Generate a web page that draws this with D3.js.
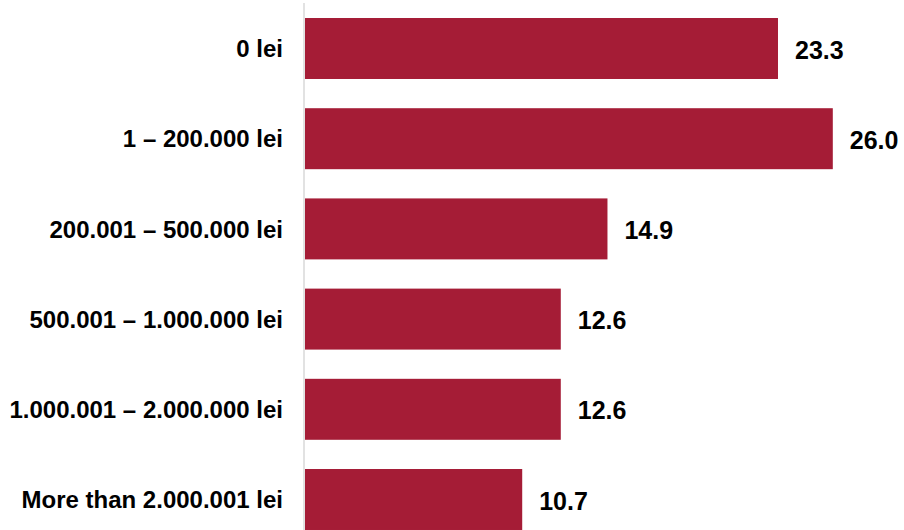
<!DOCTYPE html>
<html>
<head>
<meta charset="utf-8">
<script src="https://cdn.jsdelivr.net/npm/d3@7"></script>
<style>
  html, body { margin: 0; padding: 0; background: #fff; overflow: hidden; }
  svg { display: block; }
  text { font-family: "Liberation Sans", Arial, sans-serif; font-weight: bold; fill: #000; }
</style>
</head>
<body>
<svg id="chart" width="904" height="530"></svg>
<script>
// Share of companies by turnover bracket (%)
const categories = [
  "0 lei",
  "1 – 200.000 lei",
  "200.001 – 500.000 lei",
  "500.001 – 1.000.000 lei",
  "1.000.001 – 2.000.000 lei",
  "More than 2.000.001 lei"
];
const values = [23.3, 26.0, 14.9, 12.6, 12.6, 10.7];

const svg = d3.select("#chart");
const W = 904, H = 530;

const x = d3.scaleLinear()
  .domain([0, 26])
  .range([305, 832.8]);

const y = d3.scaleBand()
  .domain(categories)
  .range([3.4, 544.6])
  .paddingInner(0.324)
  .paddingOuter(0.162);

// bars
svg.append("g")
  .selectAll("rect")
  .data(values)
  .join("rect")
  .attr("x", x(0))
  .attr("y", (d, i) => y(categories[i]))
  .attr("width", d => x(d) - x(0))
  .attr("height", y.bandwidth())
  .attr("fill", "#A51C36");

// category axis on the left
const yAxis = svg.append("g")
  .attr("transform", `translate(${x(0) - 1},0)`)
  .call(d3.axisLeft(y).tickSize(0).tickPadding(21));
yAxis.select(".domain")
  .attr("d", `M0,3V${H}`)
  .attr("stroke", "#d9d9d9")
  .attr("stroke-width", 1.5);
yAxis.selectAll(".tick text")
  .attr("font-size", 24)
  .attr("font-family", "Liberation Sans, Arial, sans-serif")
  .attr("font-weight", "bold")
  .attr("fill", "#000")
  .attr("dy", "0.36em");

// value labels
svg.append("g")
  .selectAll("text")
  .data(values)
  .join("text")
  .attr("x", d => x(d) + 17)
  .attr("y", (d, i) => y(categories[i]) + y.bandwidth() / 2 + 1)
  .attr("dy", "0.36em")
  .attr("font-size", 25)
  .text(d => d.toFixed(1));
</script>
</body>
</html>
